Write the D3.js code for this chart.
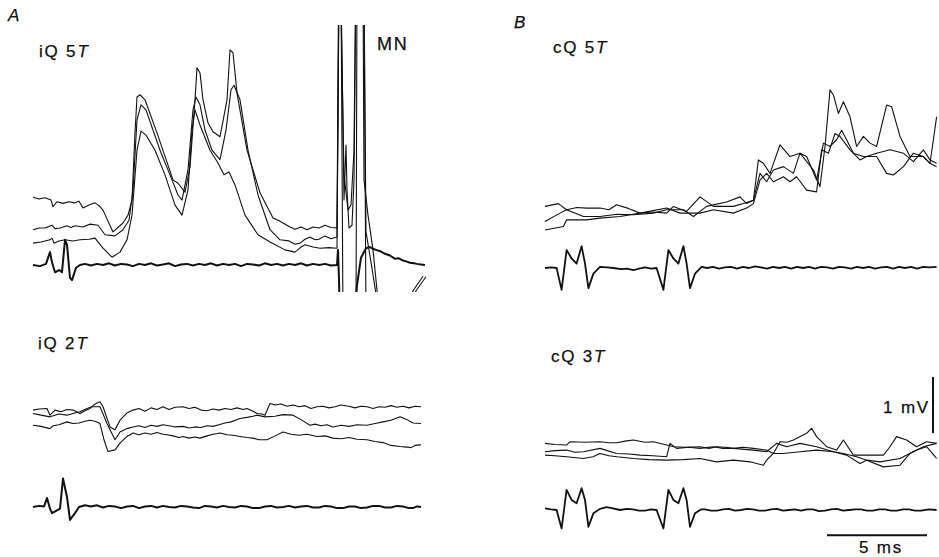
<!DOCTYPE html>
<html>
<head>
<meta charset="utf-8">
<script src="https://cdn.jsdelivr.net/npm/d3@7"></script>
<style>
  body { margin: 0; background: #fff; }
  svg { display: block; }
  text { font-family: "Liberation Sans", Arial, sans-serif; fill: #111; }
</style>
</head>
<body>
<div id="chart"></div>
<script>
var width = 939;
var height = 557;

// time in ms, voltage in mV (relative to the stimulus trace baseline)

// ---- panel A, iQ 5T (with motoneurone spikes at the end)
var iq5Trace1 = [[0,1.21],[0.3,1.18],[0.6,1.2],[0.9,1.16],[1.0,1.04],[1.2,1.13],[1.5,1.1],[1.8,1.13],[2.1,1.11],[2.3,1.14],
  [2.5,1.02],[2.8,1.07],[3.1,1.11],[3.3,1.06],[3.5,0.98],
  [4.0,0.59],[4.5,0.75],[4.75,0.89],[4.95,1.16],[5.1,2.36],[5.2,3.0],[5.35,3.04],[5.6,2.95],[6.2,2.36],[7.0,1.52],[7.25,1.46],
  [7.6,1.3],[7.85,1.75],[8.1,2.95],[8.2,3.52],[8.35,3.43],[8.5,2.95],[8.75,2.54],[9.0,2.38],[9.35,2.29],[9.7,2.95],[9.85,3.84],
  [10.0,3.79],[10.2,3.07],[10.7,2.05],[11.35,1.29],[12.0,0.84],[12.3,0.79],[12.5,0.75],[12.85,0.68],[13.1,0.64],[13.4,0.68],
  [13.7,0.63],[14.0,0.68],[14.3,0.66],[14.6,0.71],[14.9,0.67],[15.2,0.66],
  [15.28,5],[15.38,5],[15.55,1.61],[15.75,0.98],[15.9,1.07],[16.05,2.05],[16.13,5],[16.5,5],[16.55,1.52],[16.75,0.89],
  [17.0,0.27],[17.25,-0.63],[18.35,-1.16],[19.0,-0.46],[19.5,-0.2]];
var iq5Trace2 = [[0,0.63],[0.3,0.66],[0.6,0.66],[0.95,0.71],[1.1,0.65],[1.35,0.66],[1.7,0.7],[1.9,0.67],[2.1,0.7],[2.5,0.68],
  [2.85,0.73],[3.25,0.71],[3.6,0.54],
  [4.1,0.52],[4.5,0.63],[4.8,0.8],[5.0,1.34],[5.2,2.59],[5.4,2.86],[5.65,2.77],[6.35,2.05],[6.85,1.61],[7.25,1.25],[7.45,1.16],
  [7.75,1.7],[8.0,2.77],[8.15,3.0],[8.35,2.86],[8.6,2.41],[8.95,2.05],[9.35,1.88],[9.65,2.41],[9.9,3.13],[10.05,3.21],
  [10.35,2.95],[10.75,2.05],[11.25,1.25],[11.85,0.63],[12.35,0.45],[12.8,0.43],[13.1,0.37],[13.35,0.39],[13.6,0.46],
  [13.85,0.5],[14.1,0.45],[14.3,0.46],[14.6,0.52],[14.9,0.47],[15.2,0.5],
  [15.3,5],[15.4,5],[15.55,1.16],[15.65,2.14],[15.7,1.34],[15.8,0.66],[15.95,0.71],[16.05,1.52],[16.15,5],[16.55,5],
  [16.65,0.59],[16.9,0.05],[17.2,-0.63],[18.35,-1.16],[19.15,-0.46],[19.65,-0.21]];
var iq5Trace3 = [[0,0.39],[0.4,0.41],[0.85,0.45],[0.95,0.48],[1.05,0.39],[1.3,0.43],[1.6,0.45],[2.0,0.43],[2.35,0.45],
  [2.8,0.46],[3.1,0.48],
  [3.5,0.3],[3.95,0.14],[4.35,0.23],[4.7,0.45],[4.95,0.89],[5.2,2.05],[5.4,2.39],[5.65,2.32],[6.1,2.05],[6.6,1.61],[7.1,1.07],
  [7.45,0.89],[7.75,1.34],[7.95,2.41],[8.1,2.77],[8.35,2.5],[8.85,2.05],[9.25,1.82],[9.55,1.61],[9.8,1.66],[10.1,1.43],
  [10.6,0.89],[11.25,0.54],[11.85,0.41],[12.6,0.27],[13.1,0.23],[13.4,0.32],[13.6,0.36],[14.0,0.32],[14.35,0.3],[14.8,0.31],
  [15.2,0.3],
  [15.3,5],[15.4,5],[15.5,-1],[16.15,-1],[16.2,5],[16.55,5],[16.65,-1]];
var iq5Stim = [[0,0],[0.35,-0.02],[0.65,0.02],[0.85,0.23],[0.95,0.05],[1.1,-0.13],[1.3,-0.09],[1.45,-0.13],[1.6,0.45],[1.7,0.36],
  [1.85,-0.23],[1.95,-0.27],[2.15,-0.05],[2.35,0],[2.6,0.02],[2.9,-0.01],[3.2,0.02],[3.5,0],[3.8,0.03],[4.1,-0.01],[4.4,0.02],
  [4.7,0.01],[5.0,-0.02],[5.3,0.02],[5.6,0],[5.9,0.03],[6.2,-0.01],[6.5,0.01],[6.8,0.03],[7.1,-0.02],[7.4,0.01],[7.7,0.02],
  [8.0,-0.01],[8.3,0.02],[8.6,0],[8.9,0.03],[9.2,-0.01],[9.5,0.02],[9.8,0],[10.1,0.02],[10.4,-0.02],[10.7,0.02],[11.0,0.01],
  [11.3,-0.01],[11.6,0.03],[11.9,0],[12.2,0.02],[12.5,-0.01],[12.8,0.02],[13.1,0],[13.4,0.03],[13.7,-0.01],[14.0,0.02],
  [14.3,0],[14.6,0.02],[14.9,-0.01],[15.2,0],
  [15.25,0.27],[15.3,-0.27],[15.35,-1],[16.05,-1],[16.2,-0.36],[16.4,0.13],[16.65,0.3],[16.85,0.32],[17.0,0.29],[17.15,0.27],
  [17.4,0.24],[17.6,0.2],[17.85,0.17],[18.1,0.11],[18.3,0.12],[18.5,0.08],[18.7,0.06],[18.85,0.04],[19.05,0.03],[19.2,0.02],
  [19.4,0.01],[19.6,0]];

// ---- panel A, iQ 2T
var iq2Trace1 = [[0,1.73],[0.3,1.75],[0.7,1.76],[0.85,1.64],[1.1,1.73],[1.4,1.7],[1.7,1.74],[2.0,1.73],[2.35,1.67],[2.6,1.72],
  [2.85,1.76],[3.1,1.84],[3.35,1.88],[3.5,1.79],[3.85,1.43],[4.1,1.38],[4.35,1.55],[4.7,1.68],[5.0,1.73],[5.3,1.76],[5.6,1.71],
  [5.9,1.77],[6.2,1.74],[6.5,1.79],[6.8,1.74],[7.1,1.78],[7.5,1.79],[7.8,1.76],[8.1,1.78],[8.4,1.73],[8.7,1.72],[9.0,1.75],
  [9.3,1.73],[9.6,1.76],[9.9,1.74],[10.2,1.77],[10.5,1.74],[10.7,1.76],[11.0,1.71],[11.2,1.67],[11.45,1.66],[11.6,1.64],
  [11.85,1.85],[12.1,1.82],[12.4,1.84],[12.7,1.8],[13.0,1.82],[13.3,1.79],[13.6,1.81],[13.9,1.76],[14.2,1.79],[14.5,1.8],
  [14.8,1.77],[15.1,1.79],[15.4,1.82],[15.8,1.8],[16.1,1.77],[16.4,1.8],[16.7,1.79],[17.0,1.76],[17.3,1.79],[17.6,1.78],
  [17.9,1.81],[18.2,1.78],[18.5,1.8],[18.8,1.77],[19.1,1.8],[19.4,1.79]];
var iq2Trace2 = [[0,1.67],[0.4,1.64],[0.85,1.61],[1.3,1.66],[1.7,1.64],[2.0,1.67],[2.35,1.7],[2.7,1.76],[2.95,1.79],[3.35,1.79],
  [3.7,1.49],[4.1,1.2],[4.35,1.34],[4.7,1.4],[5.0,1.43],[5.3,1.45],[5.6,1.42],[5.9,1.46],[6.2,1.44],[6.5,1.47],[6.8,1.45],
  [7.1,1.43],[7.5,1.44],[7.8,1.41],[8.1,1.43],[8.4,1.42],[8.7,1.45],[9.0,1.44],[9.3,1.47],[9.6,1.5],[9.9,1.52],[10.35,1.58],
  [10.7,1.6],[11.0,1.62],[11.2,1.64],[11.6,1.61],[12.1,1.62],[12.5,1.65],[13.0,1.64],[13.4,1.56],[13.85,1.46],[14.1,1.48],
  [14.4,1.45],[14.7,1.47],[15.0,1.43],[15.4,1.46],[15.8,1.44],[16.2,1.47],[16.7,1.46],[17.1,1.49],[17.5,1.52],[17.9,1.55],
  [18.35,1.61],[18.7,1.56],[19.0,1.5],[19.4,1.49]];
var iq2Trace3 = [[0,1.46],[0.4,1.44],[0.85,1.4],[1.0,1.45],[1.3,1.47],[1.7,1.52],[2.0,1.49],[2.3,1.5],[2.6,1.53],[2.85,1.55],
  [3.1,1.53],[3.35,1.49],[3.55,1.2],[3.75,0.99],[4.1,1.02],[4.35,1.14],[4.7,1.26],[5.0,1.32],[5.3,1.29],[5.6,1.32],[5.9,1.3],
  [6.2,1.33],[6.5,1.3],[6.7,1.29],[7.0,1.27],[7.3,1.24],[7.5,1.26],[7.8,1.23],[8.1,1.25],[8.35,1.23],[8.7,1.27],[9.0,1.3],
  [9.35,1.32],[9.7,1.29],[10.0,1.28],[10.35,1.26],[10.7,1.24],[11.0,1.23],[11.3,1.2],[11.7,1.2],[12.1,1.27],[12.5,1.34],
  [12.9,1.3],[13.3,1.28],[13.7,1.3],[14.2,1.26],[14.6,1.27],[15.0,1.23],[15.4,1.22],[15.8,1.24],[16.2,1.21],[16.7,1.2],
  [17.1,1.17],[17.5,1.15],[17.9,1.1],[18.35,1.08],[18.7,1.07],[18.9,1.06],[19.1,1.1],[19.4,1.11]];
var iq2Stim = [[0,0],[0.3,0.02],[0.55,0.01],[0.7,0.16],[0.85,-0.03],[0.95,-0.11],[1.2,-0.06],[1.35,-0.03],[1.5,0.51],[1.7,0.18],
  [1.85,-0.23],[2.1,-0.11],[2.3,0],[2.6,0.03],[2.9,0.01],[3.2,0.03],[3.5,-0.01],[3.8,0.02],[4.1,0.01],[4.4,-0.02],[4.7,0.01],
  [5.0,0.02],[5.3,-0.02],[5.6,0.01],[5.9,0.02],[6.2,-0.01],[6.5,0.02],[6.8,0],[7.1,-0.01],[7.4,0.02],[7.7,0.01],[8.0,-0.01],
  [8.3,-0.02],[8.6,0.02],[8.9,0.01],[9.2,-0.01],[9.5,0.02],[9.8,0],[10.1,-0.01],[10.4,0.02],[10.7,0.01],[11.0,-0.02],
  [11.3,-0.02],[11.6,0.01],[11.9,0.02],[12.2,-0.01],[12.5,0],[12.8,0.02],[13.1,-0.01],[13.4,0.01],[13.7,0.02],[14.0,-0.01],
  [14.3,-0.01],[14.6,0.02],[14.9,0.01],[15.2,-0.02],[15.5,-0.02],[15.8,0.01],[16.1,0.01],[16.4,-0.02],[16.7,-0.01],
  [17.0,0.02],[17.3,0.02],[17.6,-0.01],[17.9,-0.01],[18.2,0.02],[18.5,0.01],[18.8,-0.02],[19.0,-0.02],[19.2,0.01],[19.4,0]];

// ---- panel B, cQ 5T
var cq5Trace1 = [[0,1.1],[0.67,1.15],[1.08,1.04],[1.6,1.08],[2.08,1.07],[2.75,1.07],[3.2,1.04],[3.58,1.13],[4.2,1.06],[4.75,0.98],
  [5.4,1.0],[6.08,0.98],[6.42,1.1],[7.08,1.01],[7.75,1.27],[8.42,1.1],[9.42,1.1],[10.0,1.16],[10.42,1.21],[10.67,1.93],
  [10.92,1.87],[11.25,1.69],[11.75,2.2],[12.25,1.99],[12.75,2.05],[13.42,1.75],[13.75,1.45],[14.0,2.17],[14.25,3.18],
  [14.42,3.09],[14.67,2.76],[14.92,2.97],[15.25,2.7],[15.58,2.17],[15.92,2.35],[16.25,2.23],[16.58,2.17],[17.08,2.91],
  [17.33,2.88],[17.75,2.35],[18.25,1.99],[18.92,1.99],[19.25,1.87],[19.42,2.29],[19.58,2.7]];
var cq5Trace2 = [[0,0.83],[0.75,0.98],[1.08,1.04],[1.92,0.92],[2.75,0.92],[3.6,0.96],[4.42,0.95],[5.42,0.98],[6.08,1.04],
  [6.92,1.04],[7.42,0.92],[8.08,1.1],[9.08,1.18],[9.75,1.27],[10.08,1.15],[10.42,1.21],[10.75,1.69],[11.08,1.54],[11.42,1.75],
  [11.92,1.81],[12.42,1.69],[12.75,2.05],[13.08,1.99],[13.58,1.57],[13.92,2.23],[14.25,2.17],[14.58,2.29],[14.83,2.46],
  [15.08,2.29],[15.42,2.05],[15.92,1.99],[16.58,1.99],[17.08,1.69],[17.42,1.66],[17.92,1.81],[18.42,2.05],[18.92,1.99],
  [19.25,1.87],[19.58,1.81]];
var cq5Trace3 = [[0,0.68],[0.92,0.74],[1.08,0.86],[2.08,0.86],[2.75,0.89],[3.75,0.92],[4.75,0.98],[6.08,1.07],[6.75,0.98],
  [7.75,0.98],[8.42,1.04],[9.42,0.98],[10.08,1.07],[10.42,1.15],[10.75,1.57],[11.08,1.69],[11.42,1.54],[11.92,1.63],
  [12.25,1.54],[12.58,1.63],[13.08,1.39],[13.58,1.36],[13.83,2.11],[14.17,2.05],[14.5,2.4],[14.75,2.35],[15.25,2.11],
  [15.75,1.93],[16.08,1.99],[16.58,2.05],[17.25,2.11],[17.92,2.05],[18.42,1.9],[18.92,2.11],[19.25,1.93],[19.58,1.87]];
var cq5Stim = [[0,0],[0.3,0.01],[0.58,0],[0.83,-0.39],[1.08,0.32],[1.33,0.17],[1.58,0.08],[1.83,0.39],[2.0,0.08],[2.17,-0.36],
  [2.42,-0.1],[2.75,0.02],[3.1,0.01],[3.42,0],[3.8,-0.02],[4.1,-0.01],[4.42,-0.04],[4.7,-0.01],[5.0,0.01],[5.3,-0.01],[5.58,0],
  [5.92,-0.39],[6.17,0.32],[6.42,0.17],[6.67,0.08],[6.92,0.39],[7.08,0.08],[7.25,-0.36],[7.5,-0.1],[7.83,0.02],[8.1,0],
  [8.4,0.02],[8.7,-0.01],[9.0,0.01],[9.3,0.02],[9.6,-0.01],[9.9,0.02],[10.2,0],[10.5,0.03],[10.8,0.01],[11.1,-0.01],
  [11.4,0.02],[11.7,0],[12.0,0.02],[12.3,-0.01],[12.6,0.02],[12.9,0],[13.2,0.02],[13.5,-0.01],[13.8,0.02],[14.1,0.01],
  [14.4,-0.01],[14.7,0.02],[15.0,0.01],[15.3,-0.01],[15.6,0.02],[15.9,0],[16.2,0.02],[16.5,-0.01],[16.8,0.01],[17.1,0.02],
  [17.4,-0.01],[17.7,0.02],[18.0,0],[18.3,0.02],[18.6,-0.01],[18.9,0.02],[19.2,0.01],[19.58,0.02]];

// ---- panel B, cQ 3T
var cq3Trace1 = [[0,1.19],[0.5,1.17],[1.08,1.16],[1.25,1.22],[2.0,1.21],[2.75,1.22],[3.2,1.2],[3.6,1.2],[4.0,1.23],[4.42,1.25],
  [5.0,1.21],[5.42,1.22],[6.08,1.16],[6.42,1.13],[7.0,1.12],[7.75,1.13],[8.2,1.1],[8.58,1.13],[9.0,1.12],[9.42,1.1],
  [9.9,1.12],[10.42,1.1],[11.08,1.07],[11.42,1.01],[11.75,1.22],[12.1,1.21],[12.42,1.25],[13.08,1.37],[13.33,1.46],
  [13.58,1.31],[14.08,1.13],[14.58,1.07],[14.92,1.25],[15.42,0.98],[16.08,0.98],[16.92,0.98],[17.25,1.13],[17.58,1.31],
  [18.08,1.25],[18.58,1.13],[19.08,1.22],[19.58,1.19]];
var cq3Trace2 = [[0,1.04],[0.5,1.06],[1.08,1.07],[1.5,1.03],[1.92,1.04],[2.75,1.1],[3.58,1.01],[4.2,1.0],[4.75,0.98],
  [5.4,0.97],[6.08,0.95],[6.25,1.19],[6.58,1.1],[7.2,1.12],[7.75,1.1],[8.42,1.13],[8.9,1.1],[9.42,1.1],[10.42,1.07],
  [11.08,1.04],[11.58,1.19],[12.08,1.13],[12.75,1.19],[13.58,1.13],[14.42,1.04],[14.92,1.01],[15.58,0.95],[16.08,0.89],
  [16.75,0.86],[17.75,0.92],[18.58,1.07],[19.08,1.13],[19.58,0.92]];
var cq3Trace3 = [[0,0.98],[0.5,0.97],[1.08,0.95],[1.92,0.92],[2.4,0.95],[2.75,1.01],[3.2,0.97],[3.6,0.95],[4.42,0.92],
  [5.2,0.9],[6.08,0.89],[6.9,0.9],[7.75,0.92],[8.58,0.86],[9.42,0.89],[10.25,0.86],[10.92,0.8],[11.08,0.89],[11.42,1.01],
  [11.92,1.01],[12.75,1.04],[13.58,1.07],[14.42,1.04],[15.08,0.98],[15.75,0.83],[16.08,0.89],[16.92,0.77],[17.75,0.8],
  [18.25,1.01],[18.92,1.13],[19.58,1.19]];
var cq3Stim = [[0,0.03],[0.3,0.01],[0.58,0],[0.83,-0.33],[1.08,0.36],[1.33,0.18],[1.58,0.12],[1.83,0.39],[2.0,0.18],[2.17,-0.3],
  [2.42,-0.06],[2.75,0.02],[3.08,0.05],[3.4,0.03],[3.75,0],[4.1,0.02],[4.4,0.01],[4.7,-0.01],[5.0,-0.01],[5.3,0.01],[5.58,0],
  [5.92,-0.33],[6.17,0.36],[6.42,0.18],[6.67,0.12],[6.92,0.39],[7.08,0.18],[7.25,-0.3],[7.5,-0.06],[7.8,0.01],[8.0,0.01],
  [8.3,-0.01],[8.6,-0.01],[8.9,0.01],[9.2,0.02],[9.5,-0.01],[9.8,0],[10.1,0.02],[10.4,0.01],[10.7,-0.01],[11.0,-0.01],
  [11.3,0.01],[11.6,0.02],[11.9,-0.01],[12.2,0],[12.5,0.01],[12.8,-0.01],[13.1,0.01],[13.4,0.01],[13.7,-0.02],[14.0,-0.01],
  [14.3,0.01],[14.6,0.02],[14.9,-0.01],[15.2,0],[15.5,0.01],[15.8,0.01],[16.1,-0.01],[16.4,-0.01],[16.7,0.01],[17.0,0.01],
  [17.3,-0.01],[17.6,-0.01],[17.9,0.01],[18.2,0.01],[18.5,-0.01],[18.8,-0.01],[19.2,0.01],[19.58,0]];

// calibration
var calTimeMs = 5;
var calVoltMv = 1;

var svgElement = d3.select("#chart").append("svg")
  .attr("width", width).attr("height", height);

// scales: 20 px per ms, 56 px per mV
var xA = d3.scaleLinear().domain([0, 19.6]).range([33, 425]);
var xB = d3.scaleLinear().domain([0, 19.6]).range([545, 937]);
var yA5 = d3.scaleLinear().domain([0, 1]).range([265, 209]);
var yA2 = d3.scaleLinear().domain([0, 1]).range([507, 451]);
var yB5 = d3.scaleLinear().domain([0, 1]).range([268, 212]);
var yB3 = d3.scaleLinear().domain([0, 1]).range([510, 454]);

svgElement.append("clipPath").attr("id", "clipA")
  .append("rect").attr("x", 0).attr("y", 25).attr("width", 470).attr("height", 267);

function drawTrace(pts, xs, ys, w, clip) {
  var line = d3.line().x(function (d) { return xs(d[0]); }).y(function (d) { return ys(d[1]); });
  var p = svgElement.append("path")
    .attr("d", line(pts))
    .attr("fill", "none")
    .attr("stroke", "#111")
    .attr("stroke-width", w)
    .attr("stroke-linejoin", "round");
  if (clip) p.attr("clip-path", "url(#clipA)");
}

[iq5Trace1, iq5Trace2, iq5Trace3].forEach(function (t) { drawTrace(t, xA, yA5, 1.1, true); });
drawTrace(iq5Stim, xA, yA5, 2, true);
[iq2Trace1, iq2Trace2, iq2Trace3].forEach(function (t) { drawTrace(t, xA, yA2, 1.1); });
drawTrace(iq2Stim, xA, yA2, 2);
[cq5Trace1, cq5Trace2, cq5Trace3].forEach(function (t) { drawTrace(t, xB, yB5, 1.1); });
drawTrace(cq5Stim, xB, yB5, 1.8);
[cq3Trace1, cq3Trace2, cq3Trace3].forEach(function (t) { drawTrace(t, xB, yB3, 1.1); });
drawTrace(cq3Stim, xB, yB3, 1.8);

// scale bars
svgElement.append("line")
  .attr("x1", xB(14.1)).attr("x2", xB(14.1 + calTimeMs))
  .attr("y1", yB3(-0.45)).attr("y2", yB3(-0.45))
  .attr("stroke", "#111").attr("stroke-width", 2);
svgElement.append("line")
  .attr("x1", 933).attr("x2", 933)
  .attr("y1", yB3(1.375)).attr("y2", yB3(1.375 + calVoltMv))
  .attr("stroke", "#111").attr("stroke-width", 2);

function label(x, y, parts, size, anchor) {
  var t = svgElement.append("text").attr("x", x).attr("y", y)
    .attr("font-size", size).attr("text-anchor", anchor || "start")
    .attr("letter-spacing", 1.8)
    .attr("stroke", "#111").attr("stroke-width", 0.25);
  parts.forEach(function (p) {
    t.append("tspan").text(p[0]).attr("font-style", p[1] ? "italic" : "normal");
  });
}

label(8, 21, [["A", true]], 17);
label(514, 28, [["B", true]], 17);
label(39, 57, [["iQ 5", false], ["T", true]], 17);
label(377, 50, [["MN", false]], 18);
label(38, 349, [["iQ 2", false], ["T", true]], 17);
label(553, 53, [["cQ 5", false], ["T", true]], 17);
label(551, 362, [["cQ 3", false], ["T", true]], 17);
label(930, 413, [[calVoltMv + " mV", false]], 17, "end");
label(881, 553, [[calTimeMs + " ms", false]], 17, "middle");
</script>
</body>
</html>
